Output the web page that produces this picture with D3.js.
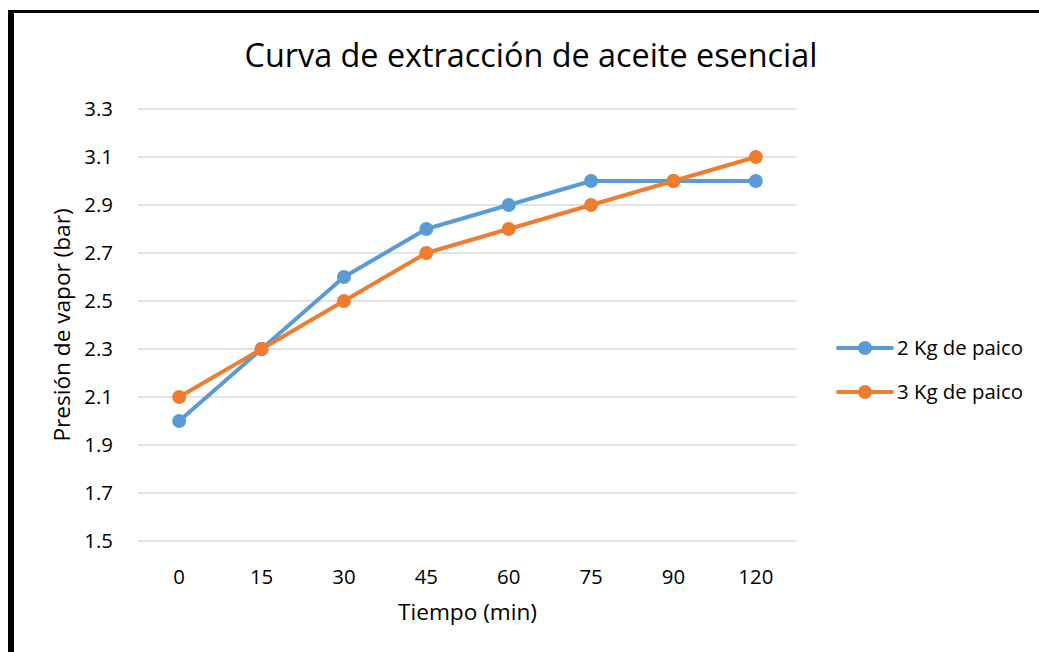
<!DOCTYPE html>
<html>
<head>
<meta charset="utf-8">
<script src="https://cdn.jsdelivr.net/npm/d3@7"></script>
<style>
  body { margin: 0; background: #fff; }
  svg { display: block; font-family: "Open Sans", "Liberation Sans", sans-serif; }
</style>
</head>
<body>
<script>
// Extraction curve data
const tiempos = ["0", "15", "30", "45", "60", "75", "90", "120"];
const kg2 = [2.0, 2.3, 2.6, 2.8, 2.9, 3.0, 3.0, 3.0];
const kg3 = [2.1, 2.3, 2.5, 2.7, 2.8, 2.9, 3.0, 3.1];
const yTicks = [1.5, 1.7, 1.9, 2.1, 2.3, 2.5, 2.7, 2.9, 3.1, 3.3];
const seriesNames = ["2 Kg de paico", "3 Kg de paico"];
const seriesColors = ["#5B9BD5", "#ED7D31"];

const width = 1039;
const height = 652;
const marginTop = 109;
const marginRight = 242;
const marginBottom = 111;
const marginLeft = 138;

const svg = d3.select("body").append("svg")
  .attr("width", width)
  .attr("height", height);

// pick a font size so a sample string has about the wanted width
function fitSize(sample, base, target) {
  const t = svg.append("text").attr("font-size", base).text(sample);
  const w = t.node().getComputedTextLength();
  t.remove();
  return base * target / w;
}
const tickSize = fitSize("120", 20, 35);
const titleSize = fitSize("Curva de extracción de aceite esencial", 30, 573);
const axisSize = fitSize("Tiempo (min)", 20, 139);
const legendSize = fitSize("2 Kg de paico", 20, 126);

// outer frame (left and top edges)
svg.append("rect").attr("x", 8).attr("y", 10).attr("width", width).attr("height", 3).attr("fill", "#000");
svg.append("rect").attr("x", 8).attr("y", 10).attr("width", 6).attr("height", height).attr("fill", "#000");

const x = d3.scaleBand()
  .domain(tiempos)
  .range([marginLeft, width - marginRight]);

const y = d3.scaleLinear()
  .domain([1.5, 3.3])
  .range([height - marginBottom, marginTop]);

// gridlines
svg.append("g")
  .selectAll("line")
  .data(yTicks)
  .join("line")
  .attr("x1", marginLeft)
  .attr("x2", width - marginRight)
  .attr("y1", d => y(d))
  .attr("y2", d => y(d))
  .attr("stroke", "#d9d9d9")
  .attr("stroke-width", 1.3);

// y axis labels
svg.append("g")
  .selectAll("text")
  .data(yTicks)
  .join("text")
  .attr("x", 113)
  .attr("y", d => y(d))
  .attr("dy", "0.35em")
  .attr("text-anchor", "end")
  .attr("font-size", tickSize)
  .attr("fill", "#000")
  .text(d => d.toFixed(1));

// x axis labels
svg.append("g")
  .selectAll("text")
  .data(tiempos)
  .join("text")
  .attr("x", d => x(d) + x.bandwidth() / 2)
  .attr("y", 577)
  .attr("dy", "0.35em")
  .attr("text-anchor", "middle")
  .attr("font-size", tickSize)
  .attr("fill", "#000")
  .text(d => d);

// title
svg.append("text")
  .attr("x", 531)
  .attr("y", 56)
  .attr("dy", "0.35em")
  .attr("text-anchor", "middle")
  .attr("font-size", titleSize)
  .attr("fill", "#000")
  .text("Curva de extracción de aceite esencial");

// axis titles
svg.append("text")
  .attr("x", (marginLeft + width - marginRight) / 2)
  .attr("y", 612)
  .attr("dy", "0.35em")
  .attr("text-anchor", "middle")
  .attr("font-size", axisSize)
  .text("Tiempo (min)");

svg.append("text")
  .attr("transform", `translate(62,${(marginTop + height - marginBottom) / 2}) rotate(-90)`)
  .attr("dy", "0.35em")
  .attr("text-anchor", "middle")
  .attr("font-size", axisSize)
  .text("Presión de vapor (bar)");

// series lines and markers
const line = d3.line()
  .x((d, i) => x(tiempos[i]) + x.bandwidth() / 2)
  .y(d => y(d));

[kg2, kg3].forEach((vals, s) => {
  const g = svg.append("g");
  g.append("path")
    .datum(vals)
    .attr("d", line)
    .attr("fill", "none")
    .attr("stroke", seriesColors[s])
    .attr("stroke-width", 4)
    .attr("stroke-linejoin", "round")
    .attr("stroke-linecap", "round");
  g.selectAll("circle")
    .data(vals)
    .join("circle")
    .attr("cx", (d, i) => x(tiempos[i]) + x.bandwidth() / 2)
    .attr("cy", d => y(d))
    .attr("r", 7)
    .attr("fill", seriesColors[s]);
});

// legend
const legend = svg.append("g")
  .selectAll("g")
  .data(seriesNames)
  .join("g")
  .attr("transform", (d, i) => `translate(838,${348 + i * 44})`);

legend.append("line")
  .attr("x1", 0).attr("x2", 54)
  .attr("stroke", (d, i) => seriesColors[i])
  .attr("stroke-width", 4)
  .attr("stroke-linecap", "round");

legend.append("circle")
  .attr("cx", 27)
  .attr("r", 7)
  .attr("fill", (d, i) => seriesColors[i]);

legend.append("text")
  .attr("x", 59)
  .attr("dy", "0.35em")
  .attr("font-size", legendSize)
  .text(d => d);
</script>
</body>
</html>
